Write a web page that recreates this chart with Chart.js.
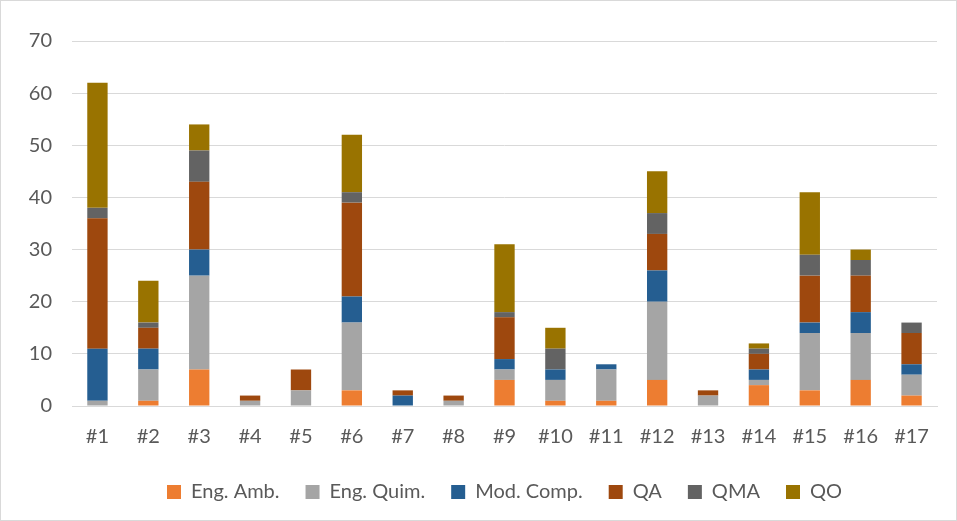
<!DOCTYPE html>
<html>
<head>
<meta charset="utf-8">
<script src="https://cdn.jsdelivr.net/npm/chart.js@4.4.1/dist/chart.umd.min.js"></script>
<style>
  html, body { margin: 0; padding: 0; background: #fff; }
  #wrap { position: relative; width: 955px; height: 519px; border: 1px solid #d9d9d9; }
</style>
</head>
<body>
<div id="wrap"><canvas id="grafico"></canvas></div>
<script>
const categorias = ['#1','#2','#3','#4','#5','#6','#7','#8','#9','#10','#11','#12','#13','#14','#15','#16','#17'];

const engAmb   = [0, 1, 7, 0, 0, 3, 0, 0, 5, 1, 1, 5, 0, 4, 3, 5, 2];
const engQuim  = [1, 6, 18, 1, 3, 13, 0, 1, 2, 4, 6, 15, 2, 1, 11, 9, 4];
const modComp  = [10, 4, 5, 0, 0, 5, 2, 0, 2, 2, 1, 6, 0, 2, 2, 4, 2];
const qa       = [25, 4, 13, 1, 4, 18, 1, 1, 8, 0, 0, 7, 1, 3, 9, 7, 6];
const qma      = [2, 1, 6, 0, 0, 2, 0, 0, 1, 4, 0, 4, 0, 1, 4, 3, 2];
const qo       = [24, 8, 5, 0, 0, 11, 0, 0, 13, 4, 0, 8, 0, 1, 12, 2, 0];

const yTicks = [0, 10, 20, 30, 40, 50, 60, 70];

const fonte = "Lato, 'Open Sans', sans-serif";
const corTexto = '#595959';
const corGrade = '#d9d9d9';

function serie(nome, valores, cor) {
    return {
        label: nome,
        data: valores,
        backgroundColor: cor,
        borderWidth: 0,
        barPercentage: 1,
        categoryPercentage: 0.4
    };
}

const ctx = document.getElementById('grafico');

const grafico = new Chart(ctx, {
    type: 'bar',
    data: {
        labels: categorias,
        datasets: [
            serie('Eng. Amb.', engAmb, '#ed7d31'),
            serie('Eng. Quim.', engQuim, '#a5a5a5'),
            serie('Mod. Comp.', modComp, '#255e91'),
            serie('QA', qa, '#9e480e'),
            serie('QMA', qma, '#636363'),
            serie('QO', qo, '#997300')
        ]
    },
    options: {
        responsive: true,
        maintainAspectRatio: false,
        animation: false,
        layout: {
            padding: { top: 40, right: 19, bottom: 8, left: 0 }
        },
        plugins: {
            tooltip: { enabled: false },
            legend: {
                position: 'bottom',
                fullSize: false, // legenda centrada na area do grafico
                labels: {
                    boxWidth: 14,
                    boxHeight: 14,
                    padding: 26,
                    color: corTexto,
                    font: { family: fonte, size: 20 }
                }
            }
        },
        scales: {
            x: {
                stacked: true,
                grid: { display: false, drawTicks: false },
                border: { color: corGrade },
                ticks: {
                    color: corTexto,
                    padding: 19,
                    font: { family: fonte, size: 20 }
                },
                afterFit: (s) => { s.height = 50; }
            },
            y: {
                stacked: true,
                min: 0,
                max: 70,
                afterBuildTicks: (s) => { s.ticks = yTicks.map(v => ({ value: v })); },
                grid: { color: corGrade, drawTicks: false },
                border: { display: false },
                ticks: {
                    color: corTexto,
                    padding: 20,
                    font: { family: fonte, size: 20 }
                },
                afterFit: (s) => { s.width = 71; }
            }
        }
    }
});
</script>
</body>
</html>
